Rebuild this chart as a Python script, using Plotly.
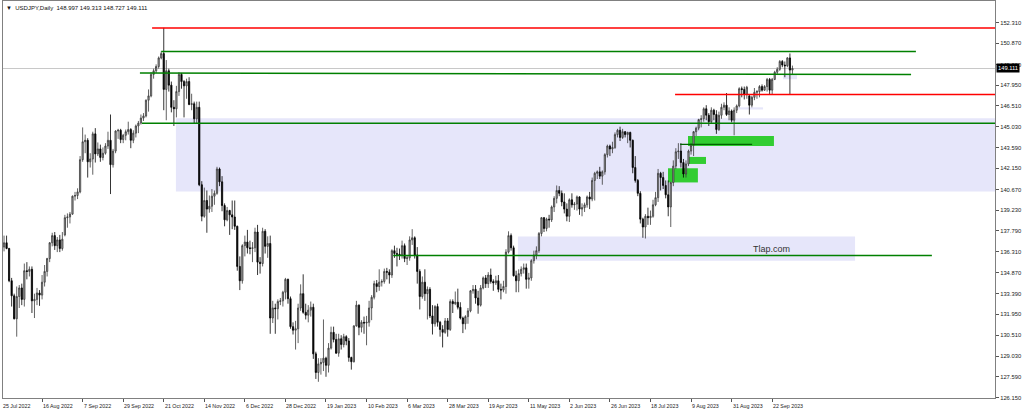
import plotly.graph_objects as go
import pandas as pd

# ---------------- data ----------------
chart_title = "USDJPY,Daily  148.997 149.313 148.727 149.111"
first_date = "2022-07-25"

opens = [
    136.10, 136.65, 136.95, 136.55, 134.30, 133.25, 131.65, 133.20, 133.80, 133.00,
    135.00, 134.95, 135.10, 132.90, 133.00, 133.45, 133.30, 134.20, 134.95, 135.85,
    136.95, 137.45, 136.75, 137.15, 136.55, 137.50, 138.70, 138.75, 138.95, 140.20,
    140.25, 140.50, 142.75, 144.00, 144.10, 142.60, 142.80, 144.55, 143.15, 143.50,
    142.90, 143.20, 143.70, 144.10, 142.40, 143.35, 144.75, 144.80, 144.15, 144.45,
    144.70, 144.85, 144.10, 144.60, 145.10, 145.30, 145.65, 145.80, 146.90, 147.20,
    148.70, 148.95, 149.25, 149.85, 150.15, 147.65, 148.95, 147.95, 146.40, 146.30,
    147.50, 148.70, 148.20, 147.90, 148.20, 146.60, 146.65, 145.60, 146.40, 141.00,
    138.80, 139.90, 139.30, 139.50, 140.20, 140.40, 142.10, 141.20, 139.55, 138.55,
    139.20, 138.90, 138.75, 138.10, 135.30, 134.30, 136.75, 137.00, 136.60, 136.55,
    136.60, 137.70, 135.60, 135.50, 137.75, 136.70, 136.90, 131.70, 132.40, 132.35,
    132.85, 132.90, 133.50, 134.40, 133.05, 131.10, 130.85, 130.95, 132.40, 133.40,
    132.10, 131.90, 132.25, 132.45, 129.20, 127.90, 128.50, 128.60, 128.90, 128.40,
    129.60, 130.70, 130.20, 129.25, 130.25, 129.85, 130.40, 130.10, 128.95, 128.65,
    131.15, 132.60, 131.05, 131.40, 131.35, 131.40, 132.40, 133.15, 134.10, 133.90,
    134.20, 134.25, 134.95, 134.90, 134.70, 136.40, 136.20, 136.15, 136.10, 136.75,
    135.85, 135.90, 137.15, 137.30, 136.10, 134.95, 133.20, 134.20, 133.40, 133.70,
    131.85, 131.30, 132.50, 131.40, 130.90, 130.70, 131.50, 130.90, 132.85, 132.70,
    132.80, 132.45, 131.70, 131.30, 131.80, 132.20, 133.60, 133.70, 133.10, 132.60,
    133.80, 134.50, 134.10, 134.70, 134.25, 134.15, 134.30, 133.70, 133.65, 133.90,
    136.30, 137.45, 136.60, 134.65, 134.30, 134.80, 135.10, 135.20, 134.40, 134.50,
    135.70, 136.10, 136.40, 137.60, 138.70, 137.95, 138.60, 138.55, 139.45, 140.05,
    140.60, 140.40, 139.80, 139.30, 138.80, 139.95, 139.60, 139.65, 140.15, 139.30,
    139.40, 139.60, 140.15, 140.00, 141.30, 141.80, 141.90, 141.60, 141.90, 143.10,
    143.70, 143.50, 143.60, 144.50, 144.80, 144.30, 144.70, 144.50, 144.65, 144.10,
    142.20, 141.30, 140.40, 138.60, 138.05, 138.80, 138.70, 138.80, 139.60, 140.10,
    141.80, 141.50, 140.95, 140.30, 139.45, 141.15, 142.30, 143.30, 143.35, 142.55,
    141.75, 142.45, 143.35, 143.75, 144.70, 144.95, 145.55, 145.60, 146.30, 145.85,
    145.40, 146.20, 145.90, 144.85, 145.85, 146.40, 146.55, 145.90, 146.15, 145.50,
    146.20, 146.50, 147.70, 147.65, 147.30, 147.20, 146.55, 147.10, 147.45, 147.50,
    147.85, 147.60, 147.85, 148.35, 147.60, 148.35, 148.85, 149.05, 149.60, 149.35,
    149.30, 149.85, 148.997,
]

highs = [
    136.90, 137.45, 137.45, 136.60, 134.50, 133.40, 133.90, 134.00, 134.10, 135.50,
    135.60, 135.30, 135.30, 133.40, 133.80, 133.65, 134.70, 135.40, 135.90, 137.00,
    137.65, 137.70, 137.35, 137.50, 137.70, 138.90, 139.00, 139.10, 140.25, 140.50,
    140.75, 143.00, 145.00, 144.50, 144.25, 143.20, 144.70, 144.95, 143.95, 143.80,
    143.60, 143.90, 144.70, 145.90, 143.50, 144.80, 144.90, 144.90, 144.55, 144.85,
    145.40, 144.95, 144.80, 145.20, 145.45, 145.90, 146.00, 146.95, 147.65, 148.85,
    149.10, 149.40, 149.95, 150.30, 151.95, 149.70, 149.10, 148.20, 146.90, 147.90,
    148.85, 148.80, 148.30, 148.40, 148.50, 147.35, 146.80, 146.80, 146.80, 141.25,
    140.80, 140.60, 140.25, 140.70, 140.60, 142.25, 142.20, 141.60, 139.70, 139.45,
    139.25, 139.90, 139.90, 138.15, 136.00, 136.85, 137.45, 137.85, 137.10, 137.00,
    138.00, 138.20, 135.95, 138.00, 137.90, 137.40, 137.45, 132.90, 132.70, 133.00,
    133.10, 133.60, 134.50, 134.45, 133.20, 131.40, 131.50, 132.70, 134.05, 134.75,
    132.70, 132.60, 132.85, 132.70, 129.35, 128.90, 128.90, 131.60, 129.00, 129.95,
    131.10, 131.10, 130.60, 130.60, 130.50, 130.60, 130.50, 130.30, 129.00, 131.20,
    132.90, 132.65, 131.55, 131.80, 131.85, 132.90, 133.30, 134.30, 134.35, 135.10,
    134.40, 135.15, 135.20, 135.10, 136.50, 136.75, 136.60, 136.55, 137.10, 136.90,
    136.05, 137.40, 137.90, 137.40, 136.65, 135.10, 134.60, 135.10, 133.90, 133.85,
    132.60, 132.60, 132.70, 131.50, 131.20, 131.70, 131.70, 133.00, 133.00, 133.55,
    133.75, 132.80, 131.80, 131.90, 132.40, 133.65, 134.00, 134.00, 133.60, 134.00,
    134.60, 134.70, 134.90, 135.15, 134.40, 134.65, 134.70, 134.10, 134.30, 136.50,
    137.75, 137.60, 136.75, 135.00, 135.10, 135.30, 135.50, 135.50, 134.85, 135.80,
    136.40, 136.70, 137.70, 138.75, 138.75, 138.70, 138.90, 139.55, 140.20, 140.95,
    140.90, 140.60, 140.40, 139.70, 140.05, 140.40, 139.80, 140.25, 140.20, 139.70,
    139.75, 140.25, 140.50, 141.50, 141.90, 142.00, 142.25, 142.00, 143.20, 143.80,
    143.80, 144.00, 144.65, 144.90, 145.05, 144.90, 144.75, 144.70, 144.70, 144.15,
    143.00, 141.40, 140.55, 138.70, 138.95, 139.40, 139.20, 139.95, 140.50, 142.10,
    141.90, 141.90, 141.30, 141.30, 141.20, 142.70, 143.55, 143.90, 143.90, 142.80,
    142.70, 143.45, 143.90, 144.75, 145.05, 145.60, 145.85, 146.40, 146.55, 146.00,
    146.40, 146.30, 146.20, 146.10, 146.65, 146.75, 147.40, 146.40, 146.25, 146.40,
    146.60, 147.80, 147.85, 147.85, 147.90, 147.30, 147.20, 147.75, 147.60, 147.95,
    148.00, 147.95, 148.45, 148.45, 148.45, 148.95, 149.20, 149.70, 149.70, 149.60,
    149.90, 150.16, 149.313,
]

lows = [
    135.90, 136.35, 136.50, 134.20, 132.50, 131.60, 130.40, 132.40, 132.60, 132.50,
    134.40, 134.60, 132.05, 131.70, 132.60, 132.55, 133.00, 133.90, 134.60, 135.60,
    136.70, 136.45, 136.30, 136.30, 136.40, 137.40, 138.00, 138.30, 138.90, 139.90,
    140.00, 140.40, 142.60, 143.20, 141.50, 142.20, 141.70, 142.55, 143.00, 142.60,
    142.70, 143.10, 143.50, 140.35, 142.20, 143.20, 144.20, 143.90, 143.90, 144.10,
    144.50, 143.55, 143.90, 144.30, 144.60, 145.20, 145.45, 145.70, 146.10, 147.10,
    148.40, 148.80, 149.10, 149.75, 146.20, 145.50, 147.50, 146.05, 145.10, 145.70,
    147.20, 147.70, 145.70, 147.00, 146.55, 146.20, 145.30, 145.30, 140.90, 138.45,
    138.70, 137.65, 139.05, 139.10, 139.60, 140.30, 140.90, 139.15, 138.10, 138.45,
    137.50, 137.90, 137.85, 135.00, 133.65, 134.10, 136.00, 136.20, 136.15, 135.60,
    136.30, 134.70, 134.80, 135.30, 136.20, 135.90, 130.60, 131.35, 130.60, 131.60,
    132.60, 132.50, 133.00, 132.70, 130.95, 130.55, 129.50, 129.95, 132.20, 132.00,
    131.60, 131.40, 131.80, 128.85, 127.45, 127.25, 127.75, 128.00, 127.60, 127.90,
    129.50, 130.00, 129.20, 129.00, 129.50, 129.65, 129.80, 128.65, 128.10, 128.60,
    131.10, 130.50, 130.70, 130.60, 129.80, 131.10, 131.55, 133.00, 133.50, 133.60,
    133.90, 134.10, 134.40, 134.10, 134.50, 135.90, 135.30, 135.75, 135.85, 135.60,
    135.40, 135.70, 136.80, 135.85, 134.10, 132.30, 133.05, 132.90, 131.60, 131.70,
    130.55, 131.10, 131.10, 130.40, 129.65, 130.60, 130.40, 130.80, 132.05, 132.60,
    132.30, 131.60, 130.65, 130.90, 131.30, 132.10, 133.40, 132.70, 132.00, 132.50,
    133.70, 133.80, 133.80, 134.10, 133.60, 134.00, 133.50, 133.00, 133.50, 133.40,
    136.20, 136.40, 134.60, 133.50, 133.50, 134.60, 134.80, 133.75, 133.75, 134.30,
    135.50, 135.80, 136.25, 137.40, 137.70, 137.75, 138.00, 138.40, 139.10, 139.70,
    140.20, 139.50, 139.00, 138.45, 138.40, 139.40, 139.25, 139.20, 138.90, 138.80,
    139.10, 139.40, 139.30, 139.85, 139.90, 141.40, 141.40, 141.00, 141.70, 142.90,
    143.00, 143.20, 143.50, 144.30, 144.05, 144.20, 144.30, 143.90, 143.60, 141.80,
    141.15, 140.20, 138.30, 137.30, 137.25, 138.20, 138.20, 138.70, 139.50, 139.80,
    140.60, 140.70, 140.05, 138.80, 138.05, 140.90, 142.10, 142.80, 142.20, 141.50,
    141.50, 142.30, 143.10, 143.00, 144.40, 144.80, 145.00, 145.40, 145.50, 145.10,
    145.30, 145.50, 144.55, 144.75, 145.60, 146.20, 145.80, 145.50, 145.35, 144.45,
    146.00, 146.40, 147.10, 146.95, 147.00, 145.90, 146.40, 146.90, 147.00, 147.10,
    147.50, 147.55, 147.50, 147.30, 147.30, 148.30, 148.70, 148.95, 149.20, 148.50,
    149.20, 147.30, 148.727,
]

closes = [
    136.65, 136.95, 136.55, 134.30, 133.25, 131.65, 133.20, 133.80, 133.00, 135.00,
    134.95, 135.10, 132.90, 133.00, 133.45, 133.30, 134.20, 134.95, 135.85, 136.95,
    137.45, 136.75, 137.15, 136.55, 137.20, 138.70, 138.75, 138.95, 140.20, 140.25,
    140.50, 142.75, 144.00, 144.10, 142.60, 142.80, 144.55, 143.15, 143.50, 142.90,
    143.20, 143.70, 144.10, 142.40, 143.35, 144.75, 144.80, 144.15, 144.45, 144.70,
    144.85, 144.10, 144.60, 145.10, 145.30, 145.65, 145.80, 146.90, 147.20, 148.70,
    148.95, 149.25, 149.85, 150.15, 147.65, 148.95, 147.95, 146.40, 146.30, 147.50,
    148.70, 148.20, 147.90, 148.20, 146.60, 146.65, 145.60, 146.40, 141.00, 138.80,
    139.90, 139.30, 139.50, 140.20, 140.40, 142.10, 141.20, 139.55, 138.55, 139.20,
    138.90, 138.75, 138.10, 135.30, 134.30, 136.75, 137.00, 136.60, 136.55, 136.60,
    137.70, 135.60, 135.50, 137.75, 136.70, 136.90, 131.70, 132.40, 132.35, 132.85,
    132.90, 133.50, 134.40, 133.05, 131.10, 130.85, 130.95, 132.40, 133.40, 132.10,
    131.90, 132.25, 132.45, 129.20, 127.90, 128.50, 128.60, 128.90, 128.40, 129.60,
    130.70, 130.20, 129.25, 130.25, 129.85, 130.40, 130.10, 128.95, 128.65, 131.15,
    132.60, 131.05, 131.40, 131.35, 131.40, 132.40, 133.15, 134.10, 133.90, 134.20,
    134.25, 134.95, 134.90, 134.70, 136.40, 136.20, 136.15, 136.10, 136.75, 135.85,
    135.90, 137.15, 137.30, 136.10, 134.95, 133.20, 134.20, 133.40, 133.70, 131.85,
    131.30, 132.50, 131.40, 130.90, 130.70, 131.50, 130.90, 132.85, 132.70, 132.80,
    132.45, 131.70, 131.30, 131.80, 132.20, 133.60, 133.70, 133.10, 132.60, 133.80,
    134.50, 134.10, 134.70, 134.25, 134.15, 134.30, 133.70, 133.65, 133.90, 136.30,
    137.45, 136.60, 134.65, 134.30, 134.80, 135.10, 135.20, 134.40, 134.50, 135.70,
    136.10, 136.40, 137.60, 138.70, 137.95, 138.60, 138.55, 139.45, 140.05, 140.60,
    140.40, 139.80, 139.30, 138.80, 139.95, 139.60, 139.65, 140.15, 139.30, 139.40,
    139.60, 140.15, 140.00, 141.30, 141.80, 141.90, 141.60, 141.90, 143.10, 143.70,
    143.50, 143.60, 144.50, 144.80, 144.30, 144.70, 144.50, 144.65, 144.10, 142.20,
    141.30, 140.40, 138.60, 138.05, 138.80, 138.70, 138.80, 139.60, 140.10, 141.80,
    141.50, 140.95, 140.30, 139.45, 141.15, 142.30, 143.30, 143.35, 142.55, 141.75,
    142.45, 143.35, 143.75, 144.70, 144.95, 145.55, 145.60, 146.30, 145.85, 145.40,
    146.20, 145.90, 144.85, 145.85, 146.40, 146.55, 145.90, 146.15, 145.50, 146.20,
    146.50, 147.70, 147.65, 147.30, 147.80, 146.55, 147.10, 147.45, 147.50, 147.85,
    147.60, 147.85, 148.35, 147.60, 148.35, 148.85, 149.05, 149.60, 149.35, 149.30,
    149.85, 149.00, 149.111,
]

date_tick_labels = [
    "25 Jul 2022", "16 Aug 2022", "7 Sep 2022", "29 Sep 2022", "21 Oct 2022",
    "14 Nov 2022", "6 Dec 2022", "28 Dec 2022", "19 Jan 2023", "10 Feb 2023",
    "6 Mar 2023", "28 Mar 2023", "19 Apr 2023", "11 May 2023", "2 Jun 2023",
    "26 Jun 2023", "18 Jul 2023", "9 Aug 2023", "31 Aug 2023", "22 Sep 2023",
]

price_ticks = [152.310, 150.870, 149.390, 147.950, 146.510, 145.030, 143.590,
               142.150, 140.670, 139.230, 137.790, 136.310, 134.870, 133.390,
               131.950, 130.510, 129.030, 127.590, 126.150]

last_price = 149.111

# chart objects: (bar0, price0, bar1, price1)
red_lines = [(59.4, 151.94, 392.0, 151.94),
             (265.7, 147.30, 392.0, 147.30)]
green_lines = [(63.0, 150.30, 360.7, 150.30),
               (54.6, 148.79, 358.8, 148.70),
               (55.4, 145.29, 392.0, 145.29),
               (154.5, 136.06, 367.0, 136.06)]
dark_green_lines = [(267.7, 143.82, 296.1, 143.82)]
lavender_zones = [(68.8, 140.52, 392.0, 145.64),
                  (203.7, 135.70, 336.7, 137.38),
                  (290.5, 146.25, 300.4, 146.40),
                  (308.3, 148.36, 313.8, 148.71)]
lime_zones = [(270.8, 143.70, 304.7, 144.40),
              (271.2, 142.45, 277.9, 142.94),
              (262.9, 141.16, 274.7, 142.15)]
watermark = ("Tlap.com", 303.6, 136.50)

# ---------------- figure ----------------
n = min(len(opens), len(highs), len(lows), len(closes))
dates = pd.bdate_range(first_date, periods=n)
bar = list(range(n))
date_index = {d.strftime("%Y-%m-%d"): i for i, d in enumerate(dates)}
tick_idx = []
for lab in date_tick_labels:
    key = pd.to_datetime(lab, format="%d %b %Y").strftime("%Y-%m-%d")
    tick_idx.append(date_index.get(key, 0))

X_MIN, X_MAX = 0.59, 391.9
FONT = "Liberation Sans, Arial, sans-serif"

fig = go.Figure()
fig.add_trace(go.Candlestick(
    x=bar, open=opens[:n], high=highs[:n], low=lows[:n], close=closes[:n],
    increasing=dict(line=dict(color="#3a3a3a", width=0.8), fillcolor="#a8a8a8"),
    decreasing=dict(line=dict(color="#000000", width=0.8), fillcolor="#000000"),
    whiskerwidth=0, showlegend=False, hoverinfo="skip",
))

shapes = []
for (x0, y0, x1, y1) in lavender_zones:
    shapes.append(dict(type="rect", xref="x", yref="y", x0=x0, x1=x1, y0=y0, y1=y1,
                       fillcolor="#E6E6FA", line=dict(width=0), layer="below"))
for (x0, y0, x1, y1) in lime_zones:
    shapes.append(dict(type="rect", xref="x", yref="y", x0=x0, x1=x1, y0=y0, y1=y1,
                       fillcolor="#32CD32", line=dict(width=0), layer="below"))
# bid line
shapes.append(dict(type="line", xref="paper", yref="y", x0=0, x1=1,
                   y0=last_price, y1=last_price, line=dict(color="#C8C8C8", width=1),
                   layer="below"))
for (x0, y0, x1, y1) in green_lines:
    shapes.append(dict(type="line", xref="x", yref="y", x0=x0, x1=x1, y0=y0, y1=y1,
                       line=dict(color="#008000", width=1.5)))
for (x0, y0, x1, y1) in dark_green_lines:
    shapes.append(dict(type="line", xref="x", yref="y", x0=x0, x1=x1, y0=y0, y1=y1,
                       line=dict(color="#006400", width=1.2)))
for (x0, y0, x1, y1) in red_lines:
    shapes.append(dict(type="line", xref="x", yref="y", x0=x0, x1=x1, y0=y0, y1=y1,
                       line=dict(color="#FF0000", width=1.5)))

annotations = []
for lab, i in zip(date_tick_labels, tick_idx):
    if i < X_MIN:
        # first label sits at the very left edge of the chart
        pos = dict(x=0, xref="paper", xshift=-2)
    else:
        pos = dict(x=i, xref="x", xshift=-1)
    annotations.append(dict(y=0, yref="paper", text=lab,
                            showarrow=False, xanchor="left", yanchor="top",
                            yshift=-3, font=dict(size=5.3, color="#222222", family=FONT),
                            **pos))
annotations.append(dict(x=0, y=1, xref="paper", yref="paper",
                        text="\u25BC  " + chart_title, showarrow=False,
                        xanchor="left", yanchor="top", xshift=1, yshift=-2,
                        font=dict(size=6, color="#111111", family=FONT)))
annotations.append(dict(x=1, y=last_price, xref="paper", yref="y",
                        text=f"{last_price:.3f}", showarrow=False, xanchor="left",
                        yanchor="middle", xshift=1, bgcolor="#000000", borderpad=1,
                        font=dict(size=5.8, color="#FFFFFF", family=FONT)))
annotations.append(dict(x=watermark[1], y=watermark[2], xref="x", yref="y",
                        text=watermark[0], showarrow=False, xanchor="center",
                        yanchor="middle",
                        font=dict(size=9, color="#333333", family=FONT)))

fig.update_layout(
    width=1024, height=414,
    margin=dict(l=3, r=29, t=1, b=16),
    paper_bgcolor="white", plot_bgcolor="white",
    shapes=shapes, annotations=annotations,
    font=dict(family=FONT),
    hovermode=False,
    xaxis=dict(range=[X_MIN, X_MAX], rangeslider=dict(visible=False),
               showgrid=False, zeroline=False,
               tickmode="array", tickvals=tick_idx, showticklabels=False,
               ticks="outside", ticklen=3, tickcolor="#555555",
               showline=True, mirror=True, linecolor="#808080", linewidth=1),
    yaxis=dict(range=[126.12, 153.82], side="right",
               showgrid=False, zeroline=False,
               tickmode="array", tickvals=price_ticks,
               ticktext=[f"{v:.3f}" for v in price_ticks],
               ticks="outside", ticklen=3, tickcolor="#555555",
               tickfont=dict(size=5.8, color="#222222", family=FONT),
               showline=True, mirror=True, linecolor="#808080", linewidth=1),
)

fig.write_html("out.html", config={"displayModeBar": False, "staticPlot": True},
               post_script="document.body.style.margin='0';document.body.style.overflow='hidden';")
